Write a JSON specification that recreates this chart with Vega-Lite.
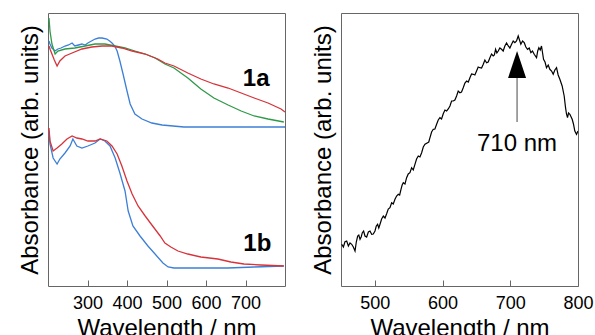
{
  "$schema": "https://vega.github.io/schema/vega-lite/v6.json",
  "background": "white",
  "padding": {"left": 17, "top": 12, "right": 0, "bottom": 0},
  "spacing": 24,
  "config": {
    "font": "Liberation Sans",
    "view": {"stroke": "#666666", "strokeWidth": 1},
    "axis": {"grid": false, "labelFontSize": 18, "labelColor": "#000", "titleFontSize": 24, "titleFontWeight": "normal", "titleColor": "#000", "tickColor": "#666666", "domain": false}
  },
  "datasets": {
    "left": [
      {"g":"1a","t":"i","nm":202.5,"a":245},{"g":"1a","t":"i","nm":205,"a":242},{"g":"1a","t":"i","nm":210,"a":238},{"g":"1a","t":"i","nm":217.7,"a":235},{"g":"1a","t":"i","nm":225,"a":237},{"g":"1a","t":"i","nm":233,"a":238},{"g":"1a","t":"i","nm":243,"a":240},{"g":"1a","t":"i","nm":252,"a":241},{"g":"1a","t":"i","nm":261,"a":243},{"g":"1a","t":"i","nm":268,"a":240},{"g":"1a","t":"i","nm":277,"a":241},{"g":"1a","t":"i","nm":286,"a":242},{"g":"1a","t":"i","nm":294,"a":241},{"g":"1a","t":"i","nm":301,"a":243},{"g":"1a","t":"i","nm":310,"a":245},{"g":"1a","t":"i","nm":319,"a":247},{"g":"1a","t":"i","nm":328,"a":248},{"g":"1a","t":"i","nm":337,"a":248},{"g":"1a","t":"i","nm":349,"a":247},{"g":"1a","t":"i","nm":356,"a":245},{"g":"1a","t":"i","nm":362,"a":243},{"g":"1a","t":"i","nm":369,"a":240},{"g":"1a","t":"i","nm":375,"a":235},{"g":"1a","t":"i","nm":382,"a":225},{"g":"1a","t":"i","nm":390,"a":212},{"g":"1a","t":"i","nm":400,"a":195},{"g":"1a","t":"i","nm":408,"a":182},{"g":"1a","t":"i","nm":420,"a":172},{"g":"1a","t":"i","nm":438,"a":167},{"g":"1a","t":"i","nm":463,"a":163},{"g":"1a","t":"i","nm":489,"a":161},{"g":"1a","t":"i","nm":544,"a":159},{"g":"1a","t":"i","nm":638,"a":159},{"g":"1a","t":"i","nm":714,"a":159},{"g":"1a","t":"i","nm":800,"a":159},
      {"g":"1a","t":"iii","nm":202.5,"a":268},{"g":"1a","t":"iii","nm":205,"a":255},{"g":"1a","t":"iii","nm":210,"a":242},{"g":"1a","t":"iii","nm":218,"a":232},{"g":"1a","t":"iii","nm":225,"a":235},{"g":"1a","t":"iii","nm":243,"a":237},{"g":"1a","t":"iii","nm":268,"a":238},{"g":"1a","t":"iii","nm":294,"a":240},{"g":"1a","t":"iii","nm":319,"a":242},{"g":"1a","t":"iii","nm":344,"a":242},{"g":"1a","t":"iii","nm":370,"a":240},{"g":"1a","t":"iii","nm":395,"a":238},{"g":"1a","t":"iii","nm":420,"a":235},{"g":"1a","t":"iii","nm":446,"a":232},{"g":"1a","t":"iii","nm":471,"a":228},{"g":"1a","t":"iii","nm":496,"a":222},{"g":"1a","t":"iii","nm":519,"a":218},{"g":"1a","t":"iii","nm":554,"a":208},{"g":"1a","t":"iii","nm":587,"a":197},{"g":"1a","t":"iii","nm":620,"a":188},{"g":"1a","t":"iii","nm":656,"a":181},{"g":"1a","t":"iii","nm":689,"a":175},{"g":"1a","t":"iii","nm":722,"a":170},{"g":"1a","t":"iii","nm":757,"a":167},{"g":"1a","t":"iii","nm":797,"a":164},
      {"g":"1a","t":"ii","nm":202.5,"a":240},{"g":"1a","t":"ii","nm":206,"a":236},{"g":"1a","t":"ii","nm":210,"a":232},{"g":"1a","t":"ii","nm":216,"a":226},{"g":"1a","t":"ii","nm":223,"a":220},{"g":"1a","t":"ii","nm":230,"a":225},{"g":"1a","t":"ii","nm":243,"a":230},{"g":"1a","t":"ii","nm":261,"a":233},{"g":"1a","t":"ii","nm":286,"a":237},{"g":"1a","t":"ii","nm":311,"a":239},{"g":"1a","t":"ii","nm":337,"a":240},{"g":"1a","t":"ii","nm":362,"a":240},{"g":"1a","t":"ii","nm":387,"a":238},{"g":"1a","t":"ii","nm":413,"a":235},{"g":"1a","t":"ii","nm":446,"a":232},{"g":"1a","t":"ii","nm":478,"a":227},{"g":"1a","t":"ii","nm":496,"a":223},{"g":"1a","t":"ii","nm":519,"a":220},{"g":"1a","t":"ii","nm":554,"a":213},{"g":"1a","t":"ii","nm":587,"a":207},{"g":"1a","t":"ii","nm":620,"a":202},{"g":"1a","t":"ii","nm":656,"a":198},{"g":"1a","t":"ii","nm":689,"a":193},{"g":"1a","t":"ii","nm":722,"a":188},{"g":"1a","t":"ii","nm":757,"a":183},{"g":"1a","t":"ii","nm":790,"a":177},{"g":"1a","t":"ii","nm":800,"a":174},
      {"g":"1b","t":"i","nm":202.5,"a":155},{"g":"1b","t":"i","nm":205,"a":142},{"g":"1b","t":"i","nm":213,"a":128},{"g":"1b","t":"i","nm":223,"a":122},{"g":"1b","t":"i","nm":230,"a":127},{"g":"1b","t":"i","nm":243,"a":133},{"g":"1b","t":"i","nm":256,"a":140},{"g":"1b","t":"i","nm":263,"a":147},{"g":"1b","t":"i","nm":273,"a":140},{"g":"1b","t":"i","nm":286,"a":138},{"g":"1b","t":"i","nm":301,"a":140},{"g":"1b","t":"i","nm":319,"a":143},{"g":"1b","t":"i","nm":332,"a":147},{"g":"1b","t":"i","nm":344,"a":145},{"g":"1b","t":"i","nm":357,"a":140},{"g":"1b","t":"i","nm":370,"a":128},{"g":"1b","t":"i","nm":382,"a":113},{"g":"1b","t":"i","nm":395,"a":95},{"g":"1b","t":"i","nm":403,"a":75},{"g":"1b","t":"i","nm":415,"a":60},{"g":"1b","t":"i","nm":433,"a":50},{"g":"1b","t":"i","nm":453,"a":40},{"g":"1b","t":"i","nm":471,"a":32},{"g":"1b","t":"i","nm":491,"a":23},{"g":"1b","t":"i","nm":504,"a":19},{"g":"1b","t":"i","nm":519,"a":18},{"g":"1b","t":"i","nm":587,"a":18},{"g":"1b","t":"i","nm":655,"a":18},{"g":"1b","t":"i","nm":722,"a":19},{"g":"1b","t":"i","nm":797,"a":20},
      {"g":"1b","t":"ii","nm":202.5,"a":158},{"g":"1b","t":"ii","nm":205,"a":145},{"g":"1b","t":"ii","nm":213,"a":135},{"g":"1b","t":"ii","nm":223,"a":138},{"g":"1b","t":"ii","nm":235,"a":142},{"g":"1b","t":"ii","nm":248,"a":147},{"g":"1b","t":"ii","nm":261,"a":150},{"g":"1b","t":"ii","nm":273,"a":148},{"g":"1b","t":"ii","nm":286,"a":147},{"g":"1b","t":"ii","nm":301,"a":145},{"g":"1b","t":"ii","nm":319,"a":145},{"g":"1b","t":"ii","nm":332,"a":147},{"g":"1b","t":"ii","nm":349,"a":145},{"g":"1b","t":"ii","nm":362,"a":140},{"g":"1b","t":"ii","nm":375,"a":132},{"g":"1b","t":"ii","nm":387,"a":120},{"g":"1b","t":"ii","nm":400,"a":105},{"g":"1b","t":"ii","nm":413,"a":92},{"g":"1b","t":"ii","nm":428,"a":80},{"g":"1b","t":"ii","nm":446,"a":70},{"g":"1b","t":"ii","nm":463,"a":61},{"g":"1b","t":"ii","nm":484,"a":50},{"g":"1b","t":"ii","nm":496,"a":43},{"g":"1b","t":"ii","nm":511,"a":39},{"g":"1b","t":"ii","nm":529,"a":35},{"g":"1b","t":"ii","nm":554,"a":32},{"g":"1b","t":"ii","nm":587,"a":29},{"g":"1b","t":"ii","nm":630,"a":27},{"g":"1b","t":"ii","nm":663,"a":24},{"g":"1b","t":"ii","nm":696,"a":22},{"g":"1b","t":"ii","nm":739,"a":21},{"g":"1b","t":"ii","nm":797,"a":20}
    ],
    "leftLabels": [
      {"label":"1a","nm":727,"a":207},
      {"label":"1b","nm":730,"a":42}
    ],
    "right": [
      {"nm":451.0,"a":41.7},{"nm":453.5,"a":39},{"nm":455.9,"a":44.3},{"nm":458.4,"a":45},{"nm":460.9,"a":40},{"nm":463.3,"a":43},{"nm":465.8,"a":41.7},{"nm":468.2,"a":39},{"nm":470.7,"a":35},{"nm":472.6,"a":44},{"nm":474.6,"a":50},{"nm":476.3,"a":51},{"nm":478.1,"a":46.7},{"nm":479.8,"a":49},{"nm":481.5,"a":53.3},{"nm":483.4,"a":55},{"nm":485.4,"a":50},{"nm":487.9,"a":49},{"nm":490.4,"a":54},{"nm":492.8,"a":55},{"nm":495.3,"a":51.7},{"nm":497.7,"a":52},{"nm":500.2,"a":55},{"nm":502.1,"a":60},{"nm":504.1,"a":61.7},{"nm":505.8,"a":58},{"nm":507.6,"a":61.7},{"nm":510,"a":67},{"nm":512.5,"a":70},{"nm":515,"a":68},{"nm":517.4,"a":72.3},{"nm":519.8,"a":77},{"nm":522.3,"a":78.3},{"nm":524.8,"a":83.3},{"nm":527.2,"a":82},{"nm":529.7,"a":86.7},{"nm":532.1,"a":90},{"nm":534.6,"a":91.7},{"nm":536.6,"a":91},{"nm":538.6,"a":96.7},{"nm":540.3,"a":101},{"nm":542.0,"a":103.3},{"nm":544.5,"a":102},{"nm":546.9,"a":108.3},{"nm":549.3,"a":112},{"nm":551.8,"a":113.3},{"nm":554.3,"a":118.3},{"nm":556.7,"a":116},{"nm":559.2,"a":121.7},{"nm":561.6,"a":127},{"nm":564.1,"a":130},{"nm":566.6,"a":129},{"nm":569.1,"a":133.3},{"nm":571.5,"a":139},{"nm":574.0,"a":141.7},{"nm":577.9,"a":143.3},{"nm":579.6,"a":144},{"nm":581.4,"a":148.3},{"nm":583.8,"a":154},{"nm":586.3,"a":156.7},{"nm":588.7,"a":157},{"nm":591.2,"a":161.7},{"nm":593.6,"a":166},{"nm":596.1,"a":168.3},{"nm":598.5,"a":167},{"nm":601.0,"a":172.3},{"nm":603.5,"a":176},{"nm":606.0,"a":175},{"nm":608.4,"a":177},{"nm":610.9,"a":180},{"nm":613.3,"a":185},{"nm":615.8,"a":185},{"nm":618.2,"a":186},{"nm":620.7,"a":190},{"nm":623.1,"a":195},{"nm":625.6,"a":193.3},{"nm":628,"a":194},{"nm":630.5,"a":198.3},{"nm":633,"a":203},{"nm":635.5,"a":205},{"nm":638,"a":204},{"nm":640.4,"a":208.3},{"nm":642.8,"a":212},{"nm":645.3,"a":211.7},{"nm":647.7,"a":211},{"nm":650.2,"a":215},{"nm":652.6,"a":219},{"nm":655.1,"a":218.3},{"nm":657.6,"a":218},{"nm":660.1,"a":221.7},{"nm":662.5,"a":226},{"nm":665.0,"a":223.3},{"nm":667.4,"a":224},{"nm":669.9,"a":228.3},{"nm":672.3,"a":232},{"nm":674.8,"a":230},{"nm":676.5,"a":231},{"nm":678.3,"a":236.7},{"nm":680.2,"a":233},{"nm":682.2,"a":235},{"nm":684.6,"a":238},{"nm":687.1,"a":236.7},{"nm":689.5,"a":235},{"nm":692.0,"a":240},{"nm":694.5,"a":243},{"nm":697.0,"a":240},{"nm":699.4,"a":238},{"nm":701.9,"a":241.7},{"nm":704.3,"a":245},{"nm":706.8,"a":243.3},{"nm":709.2,"a":245},{"nm":711.7,"a":250},{"nm":713.6,"a":246},{"nm":715.6,"a":241.7},{"nm":718.1,"a":245},{"nm":720.6,"a":243.3},{"nm":723,"a":239},{"nm":725.5,"a":236.7},{"nm":728,"a":238},{"nm":730.4,"a":233.3},{"nm":732.8,"a":235},{"nm":735.3,"a":231.7},{"nm":738.8,"a":228.3},{"nm":740.5,"a":235},{"nm":742.2,"a":238.3},{"nm":744.2,"a":236},{"nm":746.1,"a":240},{"nm":749.1,"a":226.7},{"nm":751.3,"a":224},{"nm":753.5,"a":218.3},{"nm":756,"a":221},{"nm":758.4,"a":216.7},{"nm":761,"a":215},{"nm":763.4,"a":211.7},{"nm":765.8,"a":216},{"nm":768.3,"a":218.3},{"nm":770.7,"a":211},{"nm":773.2,"a":206.7},{"nm":776.6,"a":200},{"nm":779.6,"a":190},{"nm":781.6,"a":178.3},{"nm":783,"a":172},{"nm":784.5,"a":168.3},{"nm":786,"a":173},{"nm":788.0,"a":171.7},{"nm":791.4,"a":166.7},{"nm":793.3,"a":162},{"nm":795.3,"a":155},{"nm":797.8,"a":151.7},{"nm":800,"a":155}
    ],
    "peak": [
      {"label":"710 nm","nm":710,"tip":235,"head":221.5,"top":208,"bottom":164,"ty":142}
    ]
  },
  "hconcat": [
    {
      "width": 237,
      "height": 273,
      "layer": [
        {
          "data": {"name": "left"},
          "mark": {"type": "line", "strokeWidth": 1.3, "clip": true},
          "encoding": {
            "x": {"field": "nm", "type": "quantitative", "scale": {"domain": [200, 800], "nice": false, "zero": false},
                  "axis": {"title": "Wavelength / nm", "values": [300, 400, 500, 600, 700], "tickSize": -6, "labelPadding": 14, "titlePadding": 4, "labelFlush": false}},
            "y": {"field": "a", "type": "quantitative", "scale": {"domain": [0, 273], "nice": false},
                  "axis": {"title": "Absorbance (arb. units)", "labels": false, "ticks": false, "titlePadding": 6}},
            "color": {"field": "t", "type": "nominal", "legend": null, "scale": {"domain": ["i", "ii", "iii"], "range": ["#3c7fd6", "#d6333b", "#2e9a48"]}},
            "detail": {"field": "g", "type": "nominal"}
          }
        },
        {
          "data": {"name": "leftLabels"},
          "mark": {"type": "text", "fontSize": 24, "fontWeight": "bold", "color": "#000", "baseline": "middle", "align": "center"},
          "encoding": {
            "x": {"field": "nm", "type": "quantitative"},
            "y": {"field": "a", "type": "quantitative"},
            "text": {"field": "label"}
          }
        }
      ]
    },
    {
      "width": 237,
      "height": 273,
      "layer": [
        {
          "data": {"name": "right"},
          "mark": {"type": "line", "strokeWidth": 1.2, "color": "#000", "clip": true},
          "encoding": {
            "x": {"field": "nm", "type": "quantitative", "scale": {"domain": [450, 800], "nice": false, "zero": false},
                  "axis": {"title": "Wavelength / nm", "values": [500, 550, 600, 650, 700, 750, 800], "labelExpr": "datum.value % 100 === 0 ? datum.label : ''", "tickSize": -6, "labelPadding": 14, "titlePadding": 4, "labelFlush": false}},
            "y": {"field": "a", "type": "quantitative", "scale": {"domain": [0, 273], "nice": false},
                  "axis": {"title": "Absorbance (arb. units)", "labels": false, "ticks": false, "titlePadding": 6}}
          }
        },
        {
          "data": {"name": "peak"},
          "mark": {"type": "rule", "color": "#666666", "strokeWidth": 1.2},
          "encoding": {
            "x": {"field": "nm", "type": "quantitative"},
            "y": {"field": "top", "type": "quantitative"},
            "y2": {"field": "bottom"}
          }
        },
        {
          "data": {"name": "peak"},
          "mark": {"type": "point", "shape": "M0,-1L0.667,1L-0.667,1Z", "filled": true, "color": "#000", "opacity": 1, "size": 729},
          "encoding": {
            "x": {"field": "nm", "type": "quantitative"},
            "y": {"field": "head", "type": "quantitative"}
          }
        },
        {
          "data": {"name": "peak"},
          "mark": {"type": "text", "fontSize": 24, "color": "#000", "baseline": "middle", "align": "center"},
          "encoding": {
            "x": {"field": "nm", "type": "quantitative"},
            "y": {"field": "ty", "type": "quantitative"},
            "text": {"field": "label"}
          }
        }
      ]
    }
  ]
}
